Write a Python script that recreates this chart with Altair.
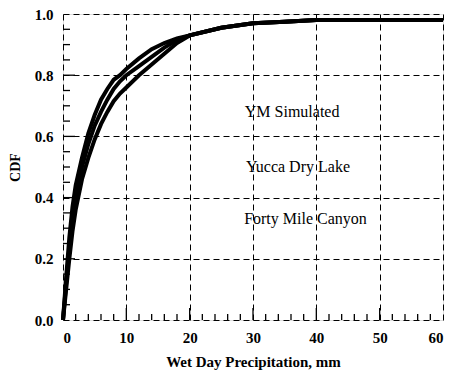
import altair as alt
import pandas as pd

precip = [0, 0.5, 1, 1.5, 2, 3, 4, 5, 6, 7, 8, 9, 10, 12, 14, 16, 18, 20, 25, 30, 35, 40, 50, 60]
ym_simulated = [0, 0.14, 0.27, 0.37, 0.44, 0.53, 0.61, 0.67, 0.72, 0.755, 0.785, 0.80, 0.82, 0.855, 0.885, 0.905, 0.92, 0.93, 0.955, 0.97, 0.975, 0.98, 0.98, 0.98]
yucca_dry_lake = [0, 0.12, 0.23, 0.33, 0.41, 0.50, 0.575, 0.635, 0.68, 0.72, 0.755, 0.78, 0.80, 0.83, 0.86, 0.89, 0.915, 0.93, 0.955, 0.97, 0.975, 0.98, 0.98, 0.98]
forty_mile = [0, 0.10, 0.20, 0.29, 0.36, 0.46, 0.53, 0.59, 0.64, 0.68, 0.715, 0.74, 0.76, 0.80, 0.835, 0.87, 0.905, 0.93, 0.955, 0.97, 0.975, 0.98, 0.98, 0.98]

label_names = ["YM Simulated", "Yucca Dry Lake", "Forty Mile Canyon"]
label_x = [28.7, 28.9, 28.6]
label_y = [0.68, 0.50, 0.33]

x_minor = [v for v in range(2, 60, 2) if v % 10 != 0]
y_minor = [round(v * 0.05, 2) for v in range(1, 20) if v % 4 != 0]

rows = []
for name, vals in zip(label_names, [ym_simulated, yucca_dry_lake, forty_mile]):
    for x, y in zip(precip, vals):
        rows.append({"series": name, "x": x, "y": y})
df = pd.DataFrame(rows)

W, H = 380, 306
font = "Liberation Serif"

xs = alt.Scale(domain=[0, 60], nice=False)
ys = alt.Scale(domain=[0, 1], nice=False)

xaxis = alt.Axis(values=[0, 10, 20, 30, 40, 50, 60], format="d", title="Wet Day Precipitation, mm",
                 grid=True, gridDash=[6, 4], gridColor="black", gridOpacity=1, gridWidth=1,
                 ticks=False, labelPadding=10, domain=False,
                 labelFont=font, labelFontSize=15, labelFontWeight="bold", labelColor="black",
                 titleFont=font, titleFontSize=15, titleFontWeight="bold", titleColor="black", titlePadding=9)
yaxis = alt.Axis(values=[0, 0.2, 0.4, 0.6, 0.8, 1.0], format=".1f", title="CDF",
                 grid=True, gridDash=[6, 4], gridColor="black", gridOpacity=1, gridWidth=1,
                 ticks=False, labelPadding=10, domain=False,
                 labelFont=font, labelFontSize=15, labelFontWeight="bold", labelColor="black",
                 titleFont=font, titleFontSize=14, titleFontWeight="bold", titleColor="black", titlePadding=12)

base = alt.Chart(df)
lines = base.mark_line(color="black", strokeWidth=4).encode(
    x=alt.X("x:Q", scale=xs, axis=xaxis),
    y=alt.Y("y:Q", scale=ys, axis=yaxis),
    detail="series:N",
)

labels_df = pd.DataFrame({"name": label_names, "x": label_x, "y": label_y})
labels = alt.Chart(labels_df).mark_text(align="left", baseline="middle", font=font, fontSize=16, color="black").encode(
    x=alt.X("x:Q", scale=xs), y=alt.Y("y:Q", scale=ys), text="name:N")

xm = alt.Chart(pd.DataFrame({"v": x_minor})).mark_rule(color="black", strokeWidth=1.3).encode(
    x=alt.X("v:Q", scale=xs), y=alt.value(H), y2=alt.value(H - 6))
xM = alt.Chart(pd.DataFrame({"v": [10, 20, 30, 40, 50]})).mark_rule(color="black", strokeWidth=1.3).encode(
    x=alt.X("v:Q", scale=xs), y=alt.value(H), y2=alt.value(H - 12))
ym = alt.Chart(pd.DataFrame({"v": y_minor})).mark_rule(color="black", strokeWidth=1.3).encode(
    y=alt.Y("v:Q", scale=ys), x=alt.value(0), x2=alt.value(7))
yM = alt.Chart(pd.DataFrame({"v": [0.2, 0.4, 0.6, 0.8]})).mark_rule(color="black", strokeWidth=1.3).encode(
    y=alt.Y("v:Q", scale=ys), x=alt.value(0), x2=alt.value(12))

chart = alt.layer(lines, xm, xM, ym, yM, labels).properties(
    width=W, height=H,
    padding={"left": 55, "top": 6, "right": 1, "bottom": 60},
    autosize=alt.AutoSizeParams(type="none"),
).configure_view(stroke="black", strokeWidth=2).configure(background="white")

chart.save("out.html", embed_options={"renderer": "svg", "actions": False})
